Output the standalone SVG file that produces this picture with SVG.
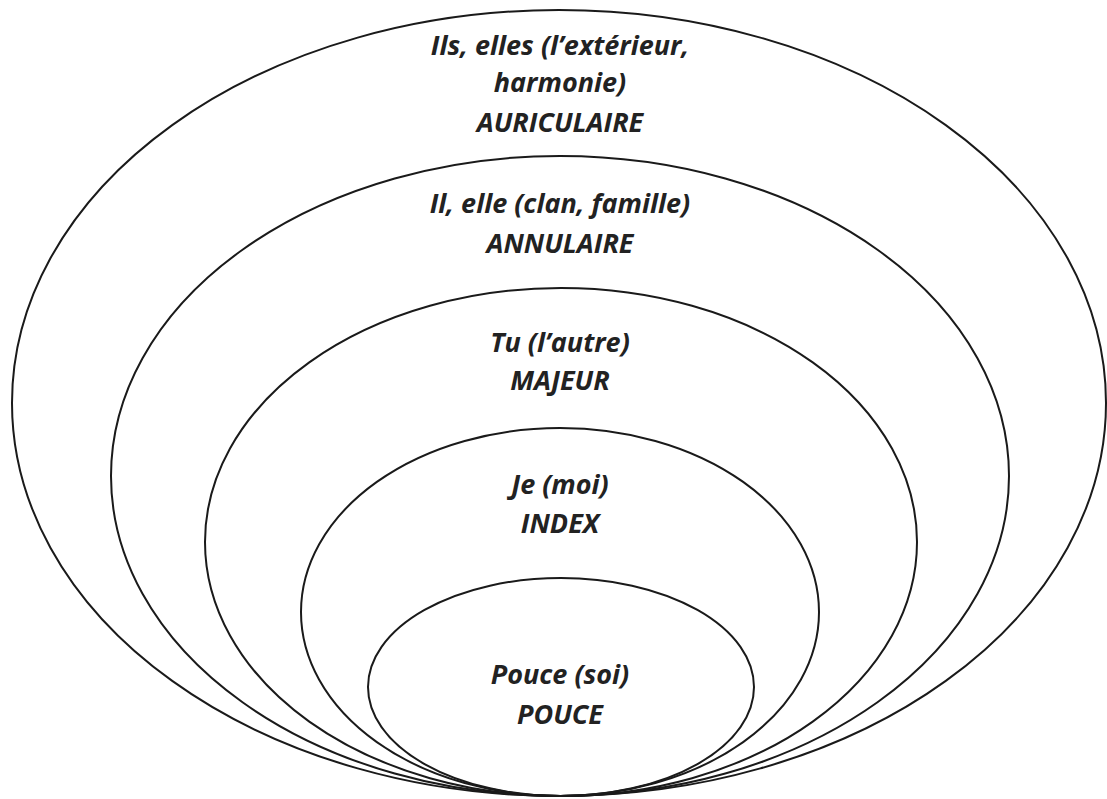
<svg xmlns="http://www.w3.org/2000/svg" width="1107" height="799" viewBox="0 0 1107 799">
<style>
.ring{fill:none;stroke:#1a1a1a;stroke-width:2}
text{font-family:"Open Sans","Liberation Sans",sans-serif;font-style:italic;font-weight:700;font-size:27px;fill:#222222;text-anchor:middle}
</style>
<rect width="1107" height="799" fill="#ffffff"/>
<g id="auriculaire">
<ellipse class="ring" cx="559" cy="403" rx="547" ry="393"/>
<text x="560" y="55">Ils, elles (l’extérieur,</text>
<text x="560" y="92">harmonie)</text>
<text x="560" y="132">AURICULAIRE</text>
</g>
<g id="annulaire">
<ellipse class="ring" cx="560" cy="476" rx="449" ry="320"/>
<text x="560" y="213">Il, elle (clan, famille)</text>
<text x="560" y="253">ANNULAIRE</text>
</g>
<g id="majeur">
<ellipse class="ring" cx="561" cy="542" rx="356" ry="254"/>
<text x="560" y="352">Tu (l’autre)</text>
<text x="560" y="390">MAJEUR</text>
</g>
<g id="index">
<ellipse class="ring" cx="560" cy="612" rx="259" ry="184"/>
<text x="560" y="494">Je (moi)</text>
<text x="560" y="533">INDEX</text>
</g>
<g id="pouce">
<ellipse class="ring" cx="561" cy="687" rx="193" ry="109"/>
<text x="560" y="684">Pouce (soi)</text>
<text x="560" y="724">POUCE</text>
</g>
</svg>
